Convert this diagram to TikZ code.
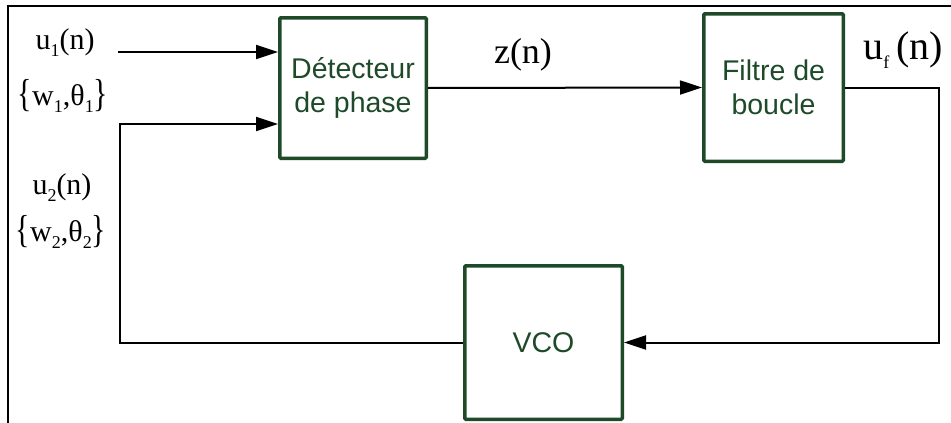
\documentclass[tikz,border=0pt]{standalone}
\usepackage{fontspec}
\setmainfont{Liberation Serif}
\newfontfamily\boxfont{Liberation Sans}
\usetikzlibrary{positioning}
\usetikzlibrary{arrows.meta}

\definecolor{bloc}{HTML}{1E4A2A}
\newcommand{\lbl}[2]{#1\raisebox{-0.5ex}{\fontsize{18}{18}\selectfont #2}}
\newcommand{\acc}[1]{\raisebox{-0.1ex}{\scalebox{1}[1.3]{#1}}}

\tikzset{
    bloc/.style={draw=bloc, line width=3.5pt, rounded corners=1pt, inner sep=0pt,
        text=bloc, align=center, font=\boxfont\fontsize{28.5}{34}\selectfont},
    fil/.style={line width=2pt, draw=black},
    fleche/.style={fil, -{Triangle[length=22pt,width=14pt]}},
    cadre/.style={line width=2.2pt},
    sig/.style={inner sep=0pt, font=\fontsize{30}{30}\selectfont}
}

\begin{document}
\begin{tikzpicture}[x=1pt, y=-1pt]
    \useasboundingbox (0,0) rectangle (951,423);
    % cadre
    \draw[cadre] (951,6) -- (8,6) -- (8,423);

    % blocs
    \node[bloc, minimum width=146.5pt, minimum height=140.5pt] (det) at (353,88) {D\'etecteur\\de phase};
    \node[bloc, minimum width=139.5pt, minimum height=147.5pt] (filt) at (773.5,87.5) {Filtre de\\boucle};
    \node[bloc, minimum width=157.5pt, minimum height=153.5pt] (vco) at (543.5,342.5) {VCO};

    % signaux
    \node[sig] (u1) at (65,43) {\lbl{u}{1}(n)};
    \node[sig] (w1) at (63,96) {\acc{\{}\lbl{w}{1},\lbl{θ}{1}\acc{\}}};
    \node[sig] (u2) at (62,188) {\lbl{u}{2}(n)};
    \node[sig] (w2) at (61,232) {\acc{\{}\lbl{w}{2},\lbl{θ}{2}\acc{\}}};
    \node[sig, font=\fontsize{36}{36}\selectfont] (z) at (523,55) {z(n)};
    \node[sig, font=\fontsize{40}{40}\selectfont] (uf) at (903,50) {\lbl{u}{f}\,(n)};

    \coordinate (e1) at (118,52);
    \coordinate (rb) at (120,124);

    % liaisons
    \draw[fleche] (e1) -- (e1 -| det.west);
    \draw[fleche] (vco.west) -| (rb) -- (rb -| det.west);
    \draw[fleche] (det.east) -- (filt.west);
    \draw[fleche] (filt.east) -- ++(94,0) |- (vco.east);
\end{tikzpicture}
\end{document}
